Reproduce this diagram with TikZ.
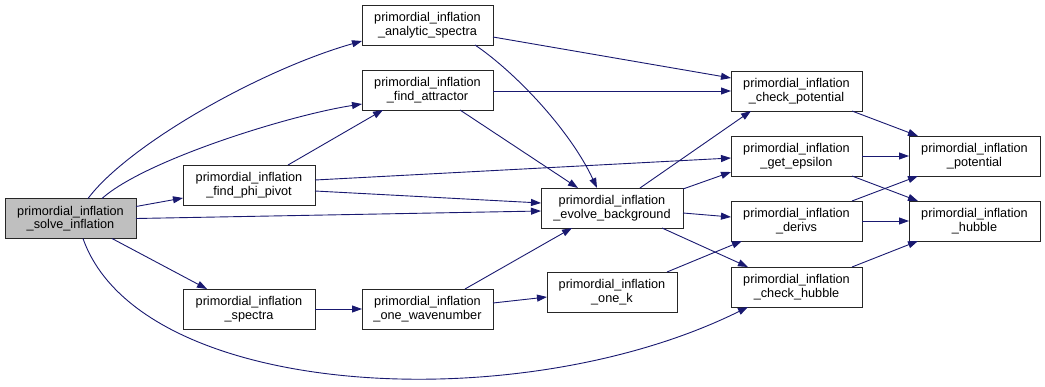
\documentclass[tikz,border=0pt]{standalone}
\usepackage{fontspec}
\setmainfont{Liberation Sans}
\usetikzlibrary{arrows.meta}
\definecolor{callblue}{HTML}{191970}
\definecolor{rootgray}{HTML}{BFBFBF}
\begin{document}
\begin{tikzpicture}[x=1pt,y=-1pt,
  fn/.style={draw=black!85, line width=0.9pt, fill=white, minimum width=131pt,
    minimum height=40pt, inner sep=0pt, outer sep=0pt, align=center,
    font=\fontsize{12.7}{13.6}\selectfont},
  callarrow/.style={draw=callblue, line width=0.9pt,
    -{Triangle[length=10pt,width=7pt]}, shorten >=0pt}]
\useasboundingbox (0,0) rectangle (1045,386);

% functions of the call graph
\node[fn, fill=rootgray] (solve) at (70.5,218.5) {primordial\_inflation\\\_solve\_inflation};
\node[fn, minimum width=132pt] (pivot) at (249,185) {primordial\_inflation\\\_find\_phi\_pivot};
\node[fn, minimum width=132pt] (spectra) at (249,309) {primordial\_inflation\\\_spectra};
\node[fn] (analytic) at (427.5,25) {primordial\_inflation\\\_analytic\_spectra};
\node[fn] (attractor) at (427.5,90) {primordial\_inflation\\\_find\_attractor};
\node[fn] (wave) at (427.5,309) {primordial\_inflation\\\_one\_wavenumber};
\node[fn, minimum width=142pt] (evolve) at (612,208) {primordial\_inflation\\\_evolve\_background};
\node[fn, minimum width=130pt] (onek) at (612,292) {primordial\_inflation\\\_one\_k};
\node[fn] (checkpot) at (796.5,91) {primordial\_inflation\\\_check\_potential};
\node[fn] (geteps) at (796.5,156) {primordial\_inflation\\\_get\_epsilon};
\node[fn] (derivs) at (796.5,221) {primordial\_inflation\\\_derivs};
\node[fn] (checkhub) at (796.5,287) {primordial\_inflation\\\_check\_hubble};
\node[fn] (potential) at (974.5,156) {primordial\_inflation\\\_potential};
\node[fn] (hubble) at (974.5,221) {primordial\_inflation\\\_hubble};

% calls made by primordial_inflation_solve_inflation
\draw[callarrow] ([shift={(83,0)}]solve.north west) .. controls (128,145) and (260,70) .. ([shift={(0,36)}]analytic.north west);
\draw[callarrow] ([shift={(97,0)}]solve.north west) .. controls (145,160) and (290,115) .. ([shift={(0,34)}]attractor.north west);
\draw[callarrow] ([shift={(0,8)}]solve.north east) -- ([shift={(0,33)}]pivot.north west);
\draw[callarrow] ([shift={(0,20)}]solve.north east) -- ([shift={(0,23)}]evolve.north west);
\draw[callarrow] ([shift={(107,0)}]solve.south west) -- ([shift={(24,0)}]spectra.north west);
\draw[callarrow] ([shift={(78,0)}]solve.south west) .. controls (140,400) and (520,420) .. ([shift={(17,0)}]checkhub.south west);

% calls from the second column
\draw[callarrow] ([shift={(105,0)}]pivot.north west) -- ([shift={(21,0)}]attractor.south west);
\draw[callarrow] ([shift={(0,15)}]pivot.north east) -- ([shift={(0,22)}]geteps.north west);
\draw[callarrow] ([shift={(0,26)}]pivot.north east) -- ([shift={(0,15)}]evolve.north west);
\draw[callarrow] ([shift={(0,20)}]spectra.north east) -- ([shift={(0,20)}]wave.north west);

% calls from the third column
\draw[callarrow] ([shift={(0,32)}]analytic.north east) -- ([shift={(0,7)}]checkpot.north west);
\draw[callarrow] ([shift={(113,0)}]analytic.south west) .. controls (515,72) and (570,130) .. ([shift={(56,0)}]evolve.north west);
\draw[callarrow] ([shift={(0,21)}]attractor.north east) -- ([shift={(0,20)}]checkpot.north west);
\draw[callarrow] ([shift={(98,0)}]attractor.south west) -- ([shift={(37,0)}]evolve.north west);
\draw[callarrow] ([shift={(103,0)}]wave.north west) -- ([shift={(31,0)}]evolve.south west);
\draw[callarrow] ([shift={(0,14)}]wave.north east) -- ([shift={(0,25)}]onek.north west);

% calls from primordial_inflation_evolve_background and _one_k
\draw[callarrow] ([shift={(99,0)}]evolve.north west) -- ([shift={(20,0)}]checkpot.south west);
\draw[callarrow] ([shift={(0,1)}]evolve.north east) -- ([shift={(0,-4)}]geteps.south west);
\draw[callarrow] ([shift={(0,25)}]evolve.north east) -- ([shift={(0,16)}]derivs.north west);
\draw[callarrow] ([shift={(121,0)}]evolve.south west) -- ([shift={(17,0)}]checkhub.north west);
\draw[callarrow] ([shift={(-10,0)}]onek.north east) -- ([shift={(11,0)}]derivs.south west);

% calls into _potential and _hubble
\draw[callarrow] ([shift={(-10,0)}]checkpot.south east) -- ([shift={(9,0)}]potential.north west);
\draw[callarrow] ([shift={(0,20)}]geteps.north east) -- ([shift={(0,20)}]potential.north west);
\draw[callarrow] ([shift={(-10,0)}]geteps.south east) -- ([shift={(9,0)}]hubble.north west);
\draw[callarrow] ([shift={(-10,0)}]derivs.north east) -- ([shift={(9,0)}]potential.south west);
\draw[callarrow] ([shift={(0,20)}]derivs.north east) -- ([shift={(0,20)}]hubble.north west);
\draw[callarrow] ([shift={(-10,0)}]checkhub.north east) -- ([shift={(9,0)}]hubble.south west);
\end{tikzpicture}
\end{document}
